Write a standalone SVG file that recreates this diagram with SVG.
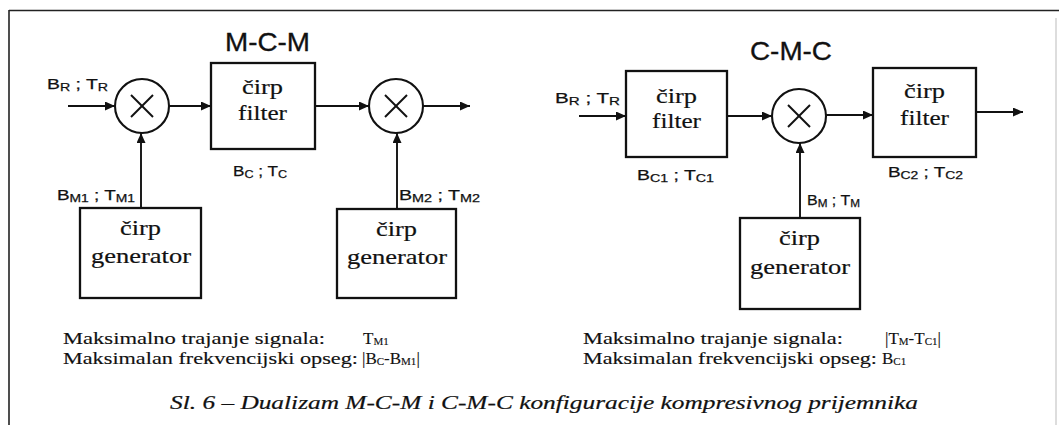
<svg xmlns="http://www.w3.org/2000/svg" width="1059" height="425" viewBox="0 0 1059 425">
<defs>
<marker id="arr" markerUnits="userSpaceOnUse" markerWidth="11" markerHeight="9" refX="10" refY="4.5" orient="auto">
<path d="M0,0 L10,4.5 L0,9 z" fill="#111"/>
</marker>
<style>
.box{fill:none;stroke:#111;stroke-width:2.3}
.mix{fill:none;stroke:#111;stroke-width:2.1}
.xl{stroke:#111;stroke-width:2}
.conn line{stroke:#111;stroke-width:1.9;marker-end:url(#arr)}
.lab{font-size:15px;fill:#111;stroke:#111;stroke-width:0.25}
.sub{font-size:11px}
.title{font-size:25px;fill:#111;stroke:#111;stroke-width:0.3}
.bt{font-size:22px;fill:#111;stroke:#111;stroke-width:0.2}
.note{font-size:17px;fill:#111;stroke:#111;stroke-width:0.15}
.nsub{font-size:11px}
.cap{font-size:19px;font-style:italic;fill:#111;stroke:#111;stroke-width:0.2}
</style>
</defs>
<rect width="1059" height="425" fill="#fff"/>
<g id="frame">
<line x1="9" y1="10.5" x2="1059" y2="10.5" stroke="#222" stroke-width="1.6"/>
<line x1="9" y1="10" x2="9" y2="425" stroke="#222" stroke-width="1.6"/>
<line x1="1056" y1="18" x2="1056" y2="425" stroke="#bbb" stroke-width="1"/>
</g>
<g class="conn" id="connectors">
<line x1="68" y1="106" x2="115" y2="106"/>
<line x1="169" y1="106" x2="211" y2="106"/>
<line x1="315" y1="106" x2="369" y2="106"/>
<line x1="423" y1="106" x2="470" y2="106"/>
<line x1="141" y1="208" x2="141" y2="133"/>
<line x1="397" y1="209" x2="397" y2="133"/>
<line x1="579" y1="116" x2="626" y2="116"/>
<line x1="727" y1="116" x2="772" y2="116"/>
<line x1="826" y1="115" x2="873" y2="115"/>
<line x1="976" y1="112" x2="1023" y2="112"/>
<line x1="800" y1="218" x2="800" y2="143"/>
</g>
<g id="titles" font-family="Liberation Sans, Arial, sans-serif">
<text class="title" x="225" y="51" textLength="85" lengthAdjust="spacingAndGlyphs">M-C-M</text>
<text class="title" x="750" y="60" textLength="82" lengthAdjust="spacingAndGlyphs">C-M-C</text>
</g>
<g id="mixer1">
<circle class="mix" cx="142" cy="106" r="27"/>
<line class="xl" x1="131" y1="95" x2="153" y2="117"/><line class="xl" x1="153" y1="95" x2="131" y2="117"/>
</g>
<g id="filter1" font-family="Liberation Serif, DejaVu Serif, serif">
<rect class="box" x="211" y="63" width="104" height="86"/>
<text class="bt" x="242" y="94" textLength="41" lengthAdjust="spacingAndGlyphs">čirp</text>
<text class="bt" x="238" y="120" textLength="49" lengthAdjust="spacingAndGlyphs">filter</text>
</g>
<g id="mixer2">
<circle class="mix" cx="396" cy="106" r="27"/>
<line class="xl" x1="385" y1="95" x2="407" y2="117"/><line class="xl" x1="407" y1="95" x2="385" y2="117"/>
</g>
<g id="gen1" font-family="Liberation Serif, DejaVu Serif, serif">
<rect class="box" x="80" y="208" width="121" height="90"/>
<text class="bt" x="120" y="235" textLength="41" lengthAdjust="spacingAndGlyphs">čirp</text>
<text class="bt" x="91" y="263" textLength="100" lengthAdjust="spacingAndGlyphs">generator</text>
</g>
<g id="gen2" font-family="Liberation Serif, DejaVu Serif, serif">
<rect class="box" x="337" y="209" width="119" height="89"/>
<text class="bt" x="376" y="236" textLength="41" lengthAdjust="spacingAndGlyphs">čirp</text>
<text class="bt" x="347" y="264" textLength="100" lengthAdjust="spacingAndGlyphs">generator</text>
</g>
<g id="filter3" font-family="Liberation Serif, DejaVu Serif, serif">
<rect class="box" x="626" y="71" width="101" height="86"/>
<text class="bt" x="656" y="103" textLength="41" lengthAdjust="spacingAndGlyphs">čirp</text>
<text class="bt" x="652" y="128" textLength="49" lengthAdjust="spacingAndGlyphs">filter</text>
</g>
<g id="mixer3">
<circle class="mix" cx="799" cy="116" r="27"/>
<line class="xl" x1="788" y1="105" x2="810" y2="127"/><line class="xl" x1="810" y1="105" x2="788" y2="127"/>
</g>
<g id="filter4" font-family="Liberation Serif, DejaVu Serif, serif">
<rect class="box" x="873" y="68" width="103" height="89"/>
<text class="bt" x="904" y="98" textLength="41" lengthAdjust="spacingAndGlyphs">čirp</text>
<text class="bt" x="900" y="125" textLength="49" lengthAdjust="spacingAndGlyphs">filter</text>
</g>
<g id="gen3" font-family="Liberation Serif, DejaVu Serif, serif">
<rect class="box" x="740" y="218" width="120" height="91"/>
<text class="bt" x="779" y="245" textLength="41" lengthAdjust="spacingAndGlyphs">čirp</text>
<text class="bt" x="750" y="274" textLength="100" lengthAdjust="spacingAndGlyphs">generator</text>
</g>
<g id="labels" font-family="Liberation Sans, Arial, sans-serif">
<text class="lab" x="47" y="89" textLength="61" lengthAdjust="spacingAndGlyphs">B<tspan class="sub" dy="2">R</tspan><tspan dy="-2"> ; T</tspan><tspan class="sub" dy="2">R</tspan></text>
<text class="lab" x="233" y="176" textLength="54" lengthAdjust="spacingAndGlyphs">B<tspan class="sub" dy="2">C</tspan><tspan dy="-2"> ; T</tspan><tspan class="sub" dy="2">C</tspan></text>
<text class="lab" x="57" y="200" textLength="78" lengthAdjust="spacingAndGlyphs">B<tspan class="sub" dy="2">M1</tspan><tspan dy="-2"> ; T</tspan><tspan class="sub" dy="2">M1</tspan></text>
<text class="lab" x="399" y="200" textLength="81" lengthAdjust="spacingAndGlyphs">B<tspan class="sub" dy="2">M2</tspan><tspan dy="-2"> ; T</tspan><tspan class="sub" dy="2">M2</tspan></text>
<text class="lab" x="555" y="103" textLength="65" lengthAdjust="spacingAndGlyphs">B<tspan class="sub" dy="2">R</tspan><tspan dy="-2"> ; T</tspan><tspan class="sub" dy="2">R</tspan></text>
<text class="lab" x="637" y="180" textLength="77" lengthAdjust="spacingAndGlyphs">B<tspan class="sub" dy="2">C1</tspan><tspan dy="-2"> ; T</tspan><tspan class="sub" dy="2">C1</tspan></text>
<text class="lab" x="888" y="177" textLength="75" lengthAdjust="spacingAndGlyphs">B<tspan class="sub" dy="2">C2</tspan><tspan dy="-2"> ; T</tspan><tspan class="sub" dy="2">C2</tspan></text>
<text class="lab" x="807" y="205" textLength="53" lengthAdjust="spacingAndGlyphs">B<tspan class="sub" dy="2">M</tspan><tspan dy="-2"> ; T</tspan><tspan class="sub" dy="2">M</tspan></text>
</g>
<g id="notes" font-family="Liberation Serif, DejaVu Serif, serif">
<text class="note" x="63" y="344" textLength="262" lengthAdjust="spacingAndGlyphs">Maksimalno trajanje signala:</text>
<text class="note" x="363" y="344">T<tspan class="nsub" dy="1">M1</tspan></text>
<text class="note" x="63" y="364" textLength="295" lengthAdjust="spacingAndGlyphs">Maksimalan frekvencijski opseg:</text>
<text class="note" x="362" y="364">|B<tspan class="nsub" dy="1">C</tspan><tspan dy="-1">-B</tspan><tspan class="nsub" dy="1">M1</tspan><tspan dy="-1">|</tspan></text>
<text class="note" x="583" y="344" textLength="260" lengthAdjust="spacingAndGlyphs">Maksimalno trajanje signala:</text>
<text class="note" x="885" y="344">|T<tspan class="nsub" dy="1">M</tspan><tspan dy="-1">-T</tspan><tspan class="nsub" dy="1">C1</tspan><tspan dy="-1">|</tspan></text>
<text class="note" x="583" y="364" textLength="294" lengthAdjust="spacingAndGlyphs">Maksimalan frekvencijski opseg:</text>
<text class="note" x="882" y="364">B<tspan class="nsub" dy="1">C1</tspan></text>
</g>
<g id="caption" font-family="Liberation Serif, DejaVu Serif, serif">
<text class="cap" x="170" y="409" textLength="748" lengthAdjust="spacingAndGlyphs">Sl. 6 – Dualizam M-C-M i C-M-C konfiguracije kompresivnog prijemnika</text>
</g>
</svg>
